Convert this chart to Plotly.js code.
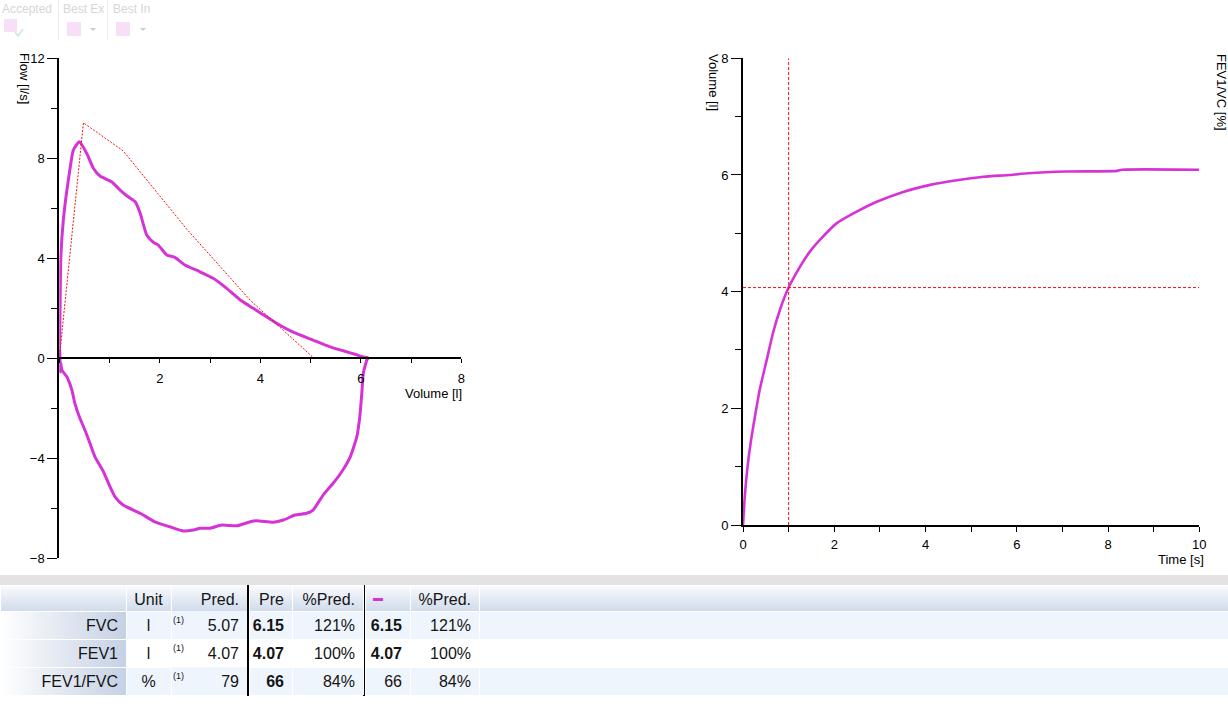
<!DOCTYPE html>
<html>
<head>
<meta charset="utf-8">
<script src="https://cdn.plot.ly/plotly-3.0.1.min.js"></script>
<style>
html,body{margin:0;padding:0;background:#fff;overflow:hidden;}
#chart{width:1228px;height:707px;}
</style>
</head>
<body>
<div id="chart"></div>
<script>
// ---------------- data ----------------
// Flow-volume loop, expiratory limb (volume l, flow l/s)
const expVolume = [0, 0.01, 0.03, 0.08, 0.18, 0.28, 0.40, 0.545, 0.677, 0.81, 1.04, 1.21, 1.37, 1.51, 1.61, 1.74, 1.87, 1.97, 2.14, 2.30, 2.50, 2.80, 3.06, 3.33, 3.60, 3.86, 4.13, 4.39, 4.62, 5.05, 5.39, 5.65, 5.90, 6.05, 6.15];
const expFlow   = [0, 1.1, 4.0, 5.53, 7.13, 8.33, 8.66, 8.2, 7.6, 7.29, 7.06, 6.73, 6.46, 6.26, 5.8, 4.93, 4.64, 4.53, 4.13, 4.04, 3.73, 3.46, 3.2, 2.8, 2.33, 2.0, 1.65, 1.32, 1.08, 0.73, 0.46, 0.3, 0.15, 0.05, 0.02];
// Flow-volume loop, inspiratory limb
const inspVolume = [6.15, 6.12, 6.05, 6.02, 5.98, 5.92, 5.79, 5.62, 5.45, 5.25, 5.05, 4.92, 4.69, 4.46, 4.26, 3.93, 3.80, 3.53, 3.23, 3.0, 2.80, 2.67, 2.47, 2.20, 1.90, 1.61, 1.27, 1.11, 1.01, 0.88, 0.71, 0.61, 0.51, 0.41, 0.31, 0.25, 0.15, 0.05, 0.03, 0.02, 0.01, 0];
const inspFlow   = [0.02, -0.07, -0.6, -1.4, -2.34, -3.14, -3.94, -4.54, -5.0, -5.47, -6.07, -6.2, -6.27, -6.47, -6.56, -6.5, -6.54, -6.7, -6.67, -6.8, -6.8, -6.87, -6.91, -6.74, -6.54, -6.2, -5.87, -5.54, -5.14, -4.54, -3.94, -3.4, -2.87, -2.4, -1.8, -1.27, -0.74, -0.47, -0.2, -0.55, 0.3, 0];
// Predicted flow-volume curve
const predVolume = [0, 0.48, 1.27, 2.535, 3.80, 5.07];
const predFlow   = [0, 9.42, 8.3, 5.17, 2.32, 0];
// Volume-time curve
const vtTime   = [0, 0.04, 0.10, 0.17, 0.26, 0.37, 0.52, 0.66, 0.81, 1.0, 1.25, 1.47, 1.69, 2.05, 2.49, 2.93, 3.51, 4.10, 4.68, 5.27, 5.85, 6.25, 7.1, 8.2, 8.3, 10.0];
const vtVolume = [0, 0.5, 1.0, 1.42, 1.85, 2.33, 2.83, 3.3, 3.69, 4.07, 4.43, 4.69, 4.89, 5.17, 5.37, 5.54, 5.71, 5.83, 5.91, 5.97, 6.0, 6.03, 6.06, 6.07, 6.09, 6.09];
const fev1Time = 1;
const fev1Volume = 4.07;

// axis ranges / ticks
const fvVolRange = [0, 8];
const fvFlowRange = [-8, 12];
const fvVolTicks = [0, 2, 4, 6, 8];
const fvVolTickText = ['', '2', '4', '6', '8'];
const fvVolMinor = [1, 3, 5, 7];
const fvFlowTicks = [-8, -4, 0, 4, 8, 12];
const fvFlowMinor = [-6, -2, 2, 6, 10];
const vtTimeRange = [0, 10];
const vtVolRange = [0, 8];
const vtTimeTicks = [0, 2, 4, 6, 8, 10];
const vtTimeMinor = [1, 3, 5, 7, 9];
const vtVolTicks = [0, 2, 4, 6, 8];
const vtVolMinor = [1, 3, 5, 7];

// table
const tableParams  = ['FVC', 'FEV1', 'FEV1/FVC'];
const tableUnits   = ['l', 'l', '%'];
const tableRefNote = ['(1)', '(1)', '(1)'];
const tablePred    = ['5.07', '4.07', '79'];
const tablePre     = ['6.15', '4.07', '66'];
const tablePrePct  = ['121%', '100%', '84%'];
const tableBest    = ['6.15', '4.07', '66'];
const tableBestBold = [true, true, false];
const tableBestPct = ['121%', '100%', '84%'];
const tableHeader1 = ['', 'Unit', '', 'Pred.'];
const tableHeader2 = ['Pre', '%Pred.'];
const tableHeader3 = ['▬', '%Pred.', ''];

const toolbarLabels = ['Accepted', 'Best Ex', 'Best In'];

// ---------------- helpers ----------------
const W = 1228, H = 707;
const px = v => v / W;
const py = v => 1 - v / H;
const FONT = 'Liberation Sans, Arial, sans-serif';
const MAG = '#d633d6';
const RED = '#ee1111';

function gradURI(vertical, c0, c1) {
  const svg = '<svg xmlns="http://www.w3.org/2000/svg" width="100" height="100" viewBox="0 0 100 100" preserveAspectRatio="none">' +
    '<defs><linearGradient id="g" x1="0" y1="0" x2="' + (vertical ? 0 : 1) + '" y2="' + (vertical ? 1 : 0) + '">' +
    '<stop offset="0" stop-color="' + c0 + '"/><stop offset="1" stop-color="' + c1 + '"/></linearGradient></defs>' +
    '<rect x="0" y="0" width="100" height="100" fill="url(#g)"/></svg>';
  return 'data:image/svg+xml;base64,' + btoa(svg);
}

const axisCommon = {
  showgrid: false, zeroline: false, showline: true, linecolor: '#000', linewidth: 2,
  ticks: 'outside', tickcolor: '#000', tickwidth: 1, fixedrange: true,
  tickfont: {family: FONT, size: 13, color: '#000'}, tickmode: 'array'
};
function minor(vals, len) {
  return {tickmode: 'array', tickvals: vals, ticks: 'outside', ticklen: len, tickcolor: '#000', tickwidth: 1, showgrid: false};
}

// ---------------- traces ----------------
const traces = [
  {x: expVolume, y: expFlow, xaxis: 'x', yaxis: 'y', type: 'scatter', mode: 'lines',
   line: {color: MAG, width: 3, shape: 'spline', smoothing: 0.5}, hoverinfo: 'skip'},
  {x: inspVolume, y: inspFlow, xaxis: 'x', yaxis: 'y', type: 'scatter', mode: 'lines',
   line: {color: MAG, width: 3, shape: 'spline', smoothing: 0.5}, hoverinfo: 'skip'},
  {x: predVolume, y: predFlow, xaxis: 'x', yaxis: 'y', type: 'scatter', mode: 'lines',
   line: {color: RED, width: 1, dash: '2px,1.5px'}, hoverinfo: 'skip'},
  {x: vtTime, y: vtVolume, xaxis: 'x2', yaxis: 'y2', type: 'scatter', mode: 'lines',
   line: {color: MAG, width: 2.6, shape: 'spline', smoothing: 0.6}, hoverinfo: 'skip'},
  {x: [fev1Time, fev1Time], y: vtVolRange, xaxis: 'x2', yaxis: 'y2', type: 'scatter', mode: 'lines',
   line: {color: RED, width: 1, dash: '3px,2px'}, hoverinfo: 'skip'},
  {x: vtTimeRange, y: [fev1Volume, fev1Volume], xaxis: 'x2', yaxis: 'y2', type: 'scatter', mode: 'lines',
   line: {color: RED, width: 1, dash: '3px,2px'}, hoverinfo: 'skip'}
];

const WHITE = '#ffffff';
const BLUE = '#eef5fd';
const CLEAR = 'rgba(0,0,0,0)';
const rowFill = [BLUE, WHITE, BLUE];
const clear3 = [CLEAR, CLEAR, CLEAR];
const TXT = '#141414';
const TBL_TOP = 585, HDR_H = 26, ROW_H = 28;
const tblBottom = TBL_TOP + HDR_H + ROW_H * tableParams.length + 1;

traces.push({
  type: 'table',
  domain: {x: [0, px(247)], y: [py(tblBottom), py(TBL_TOP)]},
  columnwidth: [126, 45, 19, 57],
  header: {values: tableHeader1, align: ['right', 'center', 'left', 'right'], height: HDR_H,
           fill: {color: CLEAR}, line: {color: [WHITE, WHITE, CLEAR, CLEAR], width: 1},
           font: {family: FONT, size: 16, color: TXT}},
  cells: {values: [tableParams, tableUnits, ['', '', ''], tablePred],
          align: ['right', 'center', 'left', 'right'], height: ROW_H,
          fill: {color: [clear3, rowFill, clear3, rowFill]},
          line: {color: [WHITE, WHITE, CLEAR, CLEAR], width: 1},
          font: {family: FONT, size: 16, color: TXT}}
});
traces.push({
  type: 'table',
  domain: {x: [px(249), px(363)], y: [py(tblBottom), py(TBL_TOP)]},
  columnwidth: [43, 71],
  header: {values: tableHeader2, align: ['right', 'right'], height: HDR_H,
           fill: {color: CLEAR}, line: {color: WHITE, width: 1},
           font: {family: FONT, size: 16, color: TXT}},
  cells: {values: [tablePre, tablePrePct],
          align: ['right', 'right'], height: ROW_H,
          fill: {color: [rowFill, rowFill]},
          line: {color: WHITE, width: 1},
          font: {family: FONT, size: 16, color: TXT, weight: ['bold', 'normal']}}
});
traces.push({
  type: 'table',
  domain: {x: [px(365), 1], y: [py(tblBottom), py(TBL_TOP)]},
  columnwidth: [45, 69, 749],
  header: {values: tableHeader3,
           align: ['left', 'right', 'left'], height: HDR_H,
           fill: {color: CLEAR}, line: {color: WHITE, width: 1},
           font: {family: FONT, size: [10, 16, 16], color: [MAG, TXT, TXT]}},
  cells: {values: [tableBest, tableBestPct, ['', '', '']],
          align: ['right', 'right', 'left'], height: ROW_H,
          fill: {color: [rowFill, rowFill, rowFill]},
          line: {color: WHITE, width: 1},
          font: {family: FONT, size: 16, color: TXT,
                 weight: [tableBestBold.map(b => b ? 'bold' : 'normal'), 'normal', 'normal']}}
});

// ---------------- layout decorations ----------------
const shapes = [
  // gray splitter band above table
  {type: 'rect', xref: 'paper', yref: 'paper', x0: 0, x1: 1, y0: py(TBL_TOP), y1: py(575), fillcolor: '#e3e3e3', line: {width: 0}, layer: 'below'},
  // thick vertical table separators
  {type: 'rect', xref: 'paper', yref: 'paper', x0: px(247), x1: px(249), y0: py(tblBottom), y1: py(TBL_TOP), fillcolor: '#000', line: {width: 0}, layer: 'below'},
  {type: 'rect', xref: 'paper', yref: 'paper', x0: px(363), x1: px(365), y0: py(tblBottom), y1: py(TBL_TOP), fillcolor: '#000', line: {width: 0}, layer: 'below'},
  // toolbar separators
  {type: 'line', xref: 'paper', yref: 'paper', x0: px(58.5), x1: px(58.5), y0: py(0), y1: py(40), line: {color: '#ececec', width: 1}},
  {type: 'line', xref: 'paper', yref: 'paper', x0: px(107.5), x1: px(107.5), y0: py(0), y1: py(40), line: {color: '#ececec', width: 1}},
  // toolbar colour squares
  {type: 'rect', xref: 'paper', yref: 'paper', x0: px(4), x1: px(17), y0: py(32), y1: py(19), fillcolor: '#f7dff7', line: {width: 0}},
  {type: 'rect', xref: 'paper', yref: 'paper', x0: px(67), x1: px(81), y0: py(36), y1: py(22), fillcolor: '#f7dff7', line: {width: 0}},
  {type: 'rect', xref: 'paper', yref: 'paper', x0: px(116), x1: px(130), y0: py(36), y1: py(22), fillcolor: '#f7dff7', line: {width: 0}},
  // faint check mark
  {type: 'path', xref: 'paper', yref: 'paper',
   path: 'M' + px(15) + ',' + py(32) + ' L' + px(18) + ',' + py(36) + ' L' + px(23) + ',' + py(29),
   line: {color: '#cfe8cf', width: 1.5}},
  // dropdown arrows
  {type: 'path', xref: 'paper', yref: 'paper',
   path: 'M' + px(90) + ',' + py(28) + ' L' + px(96) + ',' + py(28) + ' L' + px(93) + ',' + py(31) + ' Z',
   fillcolor: '#cccccc', line: {width: 0}},
  {type: 'path', xref: 'paper', yref: 'paper',
   path: 'M' + px(140) + ',' + py(28) + ' L' + px(146) + ',' + py(28) + ' L' + px(143) + ',' + py(31) + ' Z',
   fillcolor: '#cccccc', line: {width: 0}}
];
// row backgrounds behind the transparent reference-note column
rowFill.forEach((c, i) => {
  const top = TBL_TOP + HDR_H + ROW_H * i;
  shapes.push({type: 'rect', xref: 'paper', yref: 'paper', x0: px(171.5), x1: px(190), y0: py(top + ROW_H), y1: py(top),
               fillcolor: c, line: {width: 0}, layer: 'below'});
});

const images = [
  {source: gradURI(true, '#fbfcfe', '#d0dbeb'), xref: 'paper', yref: 'paper', x: 0, y: py(TBL_TOP),
   sizex: 1, sizey: HDR_H / H, xanchor: 'left', yanchor: 'top', sizing: 'stretch', layer: 'below'},
  {source: gradURI(false, '#ffffff', '#c5d1e4'), xref: 'paper', yref: 'paper', x: 0, y: py(TBL_TOP + HDR_H),
   sizex: 126 / W, sizey: ROW_H * 3 / H, xanchor: 'left', yanchor: 'top', sizing: 'stretch', layer: 'below'}
];

const ann = (text, x, y, opts) => Object.assign({text: text, xref: 'paper', yref: 'paper', x: px(x), y: py(y),
  showarrow: false, font: {family: FONT, size: 13, color: '#000'}, xanchor: 'center', yanchor: 'middle'}, opts || {});

const annotations = [
  ann('Flow [l/s]', 24, 79, {textangle: 90}),
  ann('Volume [l]', 464, 393, {xanchor: 'right'}),
  ann('Volume [l]', 714, 82, {textangle: 90}),
  ann('FEV1/VC [%]', 1222, 92, {textangle: 90}),
  ann('Time [s]', 1206, 559, {xanchor: 'right'}),
  ann(toolbarLabels[0], 0, 9, {xanchor: 'left', font: {family: FONT, size: 12, color: '#d6d6d6'}}),
  ann(toolbarLabels[1], 61, 9, {xanchor: 'left', font: {family: FONT, size: 12, color: '#d6d6d6'}}),
  ann(toolbarLabels[2], 111, 9, {xanchor: 'left', font: {family: FONT, size: 12, color: '#d6d6d6'}})
];
// superscript-like reference notes in the top-left of the Pred. cells
tableRefNote.forEach((t, i) => {
  annotations.push(ann(t, 170.5, TBL_TOP + HDR_H + ROW_H * i + 8.5,
    {xanchor: 'left', font: {family: FONT, size: 9, color: TXT}}));
});

const layout = {
  width: W, height: H,
  margin: {l: 0, r: 0, t: 0, b: 0, pad: 0},
  paper_bgcolor: '#ffffff', plot_bgcolor: '#ffffff',
  showlegend: false,
  font: {family: FONT, size: 13, color: '#000'},
  xaxis: Object.assign({}, axisCommon, {
    domain: [px(59.3), px(461.3)], range: fvVolRange, anchor: 'free', position: py(358.3),
    tickvals: fvVolTicks, ticktext: fvVolTickText, ticklen: 4, ticklabelstandoff: 4, minor: minor(fvVolMinor, 4)}),
  yaxis: Object.assign({}, axisCommon, {
    domain: [py(558.3), py(58.3)], range: fvFlowRange, anchor: 'x',
    tickvals: fvFlowTicks, ticklen: 10, minor: minor(fvFlowMinor, 6)}),
  xaxis2: Object.assign({}, axisCommon, {
    domain: [px(743), px(1199.3)], range: vtTimeRange, anchor: 'y2',
    tickvals: vtTimeTicks, ticklen: 5, ticklabelstandoff: 1, minor: minor(vtTimeMinor, 5)}),
  yaxis2: Object.assign({}, axisCommon, {
    domain: [py(525), py(58.3)], range: vtVolRange, anchor: 'x2',
    tickvals: vtVolTicks, ticklen: 10, minor: minor(vtVolMinor, 6)}),
  shapes: shapes,
  images: images,
  annotations: annotations
};

Plotly.newPlot('chart', traces, layout, {staticPlot: true, displayModeBar: false});
</script>
</body>
</html>
